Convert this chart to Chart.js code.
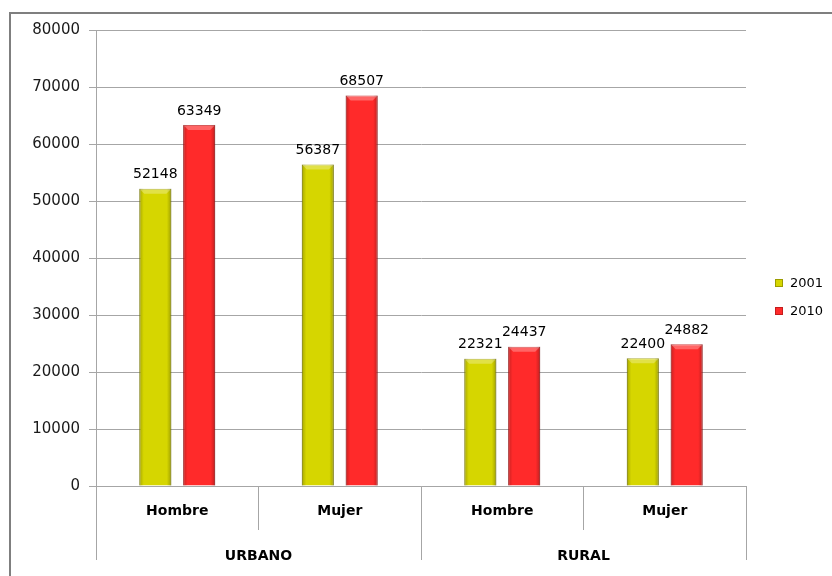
<!DOCTYPE html>
<html>
<head>
<meta charset="utf-8">
<script src="https://cdn.jsdelivr.net/npm/chart.js@4.4.0/dist/chart.umd.min.js"></script>
<style>
  html, body { margin: 0; padding: 0; background: #fff; }
  #wrap { width: 832px; height: 576px; }
</style>
</head>
<body>
<div id="wrap"><canvas id="chart" width="832" height="576"></canvas></div>
<script>
// data
const categories = ['Hombre', 'Mujer', 'Hombre', 'Mujer'];
const groups = ['URBANO', 'RURAL'];
const seriesNames = ['2001', '2010'];
const values2001 = [52148, 56387, 22321, 22400];
const values2010 = [63349, 68507, 24437, 24882];
const yMin = 0;
const yMax = 80000;
const yStep = 10000;

const fills = ['#d6d600', '#ff2a2a'];
const edges = ['#9c9c00', '#c41c1c'];
const gridColor = '#a6a6a6';

// frame, bar shading, value labels and legend
const decor = {
    id: 'decor',
    beforeDraw(chart) {
        const c = chart.ctx;
        c.save();
        c.fillStyle = '#fff';
        c.fillRect(0, 0, chart.width, chart.height);
        c.strokeStyle = '#7f7f7f';
        c.lineWidth = 2;
        c.strokeRect(10, 13, 900, 700);
        c.restore();
    },
    afterDatasetsDraw(chart) {
        const c = chart.ctx;
        c.save();
        chart.data.datasets.forEach((ds, di) => {
            chart.getDatasetMeta(di).data.forEach((bar, i) => {
                const x0 = bar.x - bar.width / 2;
                const w = bar.width;
                const h = bar.base - bar.y;
                let g = c.createLinearGradient(x0, 0, x0 + w, 0);
                g.addColorStop(0, 'rgba(0,0,0,0.22)');
                g.addColorStop(0.14, 'rgba(0,0,0,0)');
                g.addColorStop(0.86, 'rgba(0,0,0,0)');
                g.addColorStop(1, 'rgba(0,0,0,0.25)');
                c.fillStyle = g;
                c.fillRect(x0, bar.y, w, h);
                // top bevel
                c.fillStyle = 'rgba(255,255,255,0.28)';
                c.beginPath();
                c.moveTo(x0, bar.y);
                c.lineTo(x0 + w, bar.y);
                c.lineTo(x0 + w - 5, bar.y + 5);
                c.lineTo(x0 + 5, bar.y + 5);
                c.closePath();
                c.fill();

                c.fillStyle = '#000';
                c.font = '14px "DejaVu Sans"';
                c.textAlign = 'center';
                c.textBaseline = 'bottom';
                c.fillText(String(ds.data[i]), bar.x, bar.y - 7);
            });
        });

        // legend
        chart.data.datasets.forEach((ds, di) => {
            const y = 283 + di * 28;
            c.fillStyle = fills[di];
            c.fillRect(775, y - 4, 8, 8);
            c.strokeStyle = edges[di];
            c.lineWidth = 1;
            c.strokeRect(775.5, y - 3.5, 7, 7);
            c.fillStyle = '#000';
            c.font = '13px "DejaVu Sans"';
            c.textAlign = 'left';
            c.textBaseline = 'middle';
            c.fillText(ds.label, 790, y + 1);
        });
        c.restore();
    }
};

new Chart(document.getElementById('chart'), {
    type: 'bar',
    data: {
        labels: categories,
        datasets: [
            { label: seriesNames[0], data: values2001, backgroundColor: fills[0], borderColor: edges[0], borderWidth: 1 },
            { label: seriesNames[1], data: values2010, backgroundColor: fills[1], borderColor: edges[1], borderWidth: 1 }
        ]
    },
    options: {
        responsive: false,
        animation: false,
        categoryPercentage: 0.54,
        barPercentage: 0.73,
        layout: { padding: { top: 30, right: 86, bottom: 10, left: 0 } },
        plugins: {
            legend: { display: false },
            tooltip: { enabled: false }
        },
        scales: {
            y: {
                min: yMin,
                max: yMax,
                ticks: {
                    stepSize: yStep,
                    padding: 9,
                    color: '#1a1a1a',
                    font: { family: 'DejaVu Sans', size: 15 },
                    callback: v => String(v)
                },
                grid: { color: gridColor, tickLength: 7 },
                border: { display: true, color: gridColor },
                afterFit(scale) { scale.width = 96; }
            },
            x: {
                weight: 0,
                grid: { offset: true, drawOnChartArea: false, tickLength: 44, color: gridColor },
                border: { display: true, color: gridColor },
                ticks: {
                    padding: -27,
                    autoSkip: false,
                    maxRotation: 0,
                    color: '#000',
                    font: { family: 'DejaVu Sans', size: 14, weight: 'bold' }
                },
                afterFit(scale) { scale.height = 44; }
            },
            x2: {
                type: 'category',
                position: 'bottom',
                weight: 1,
                labels: groups,
                offset: true,
                grid: { offset: true, drawOnChartArea: false, tickLength: 30, color: gridColor },
                border: { display: false },
                ticks: {
                    padding: -12,
                    autoSkip: false,
                    maxRotation: 0,
                    color: '#000',
                    font: { family: 'DejaVu Sans', size: 14, weight: 'bold' }
                },
                afterFit(scale) { scale.height = 36; }
            }
        }
    },
    plugins: [decor]
});
</script>
</body>
</html>
